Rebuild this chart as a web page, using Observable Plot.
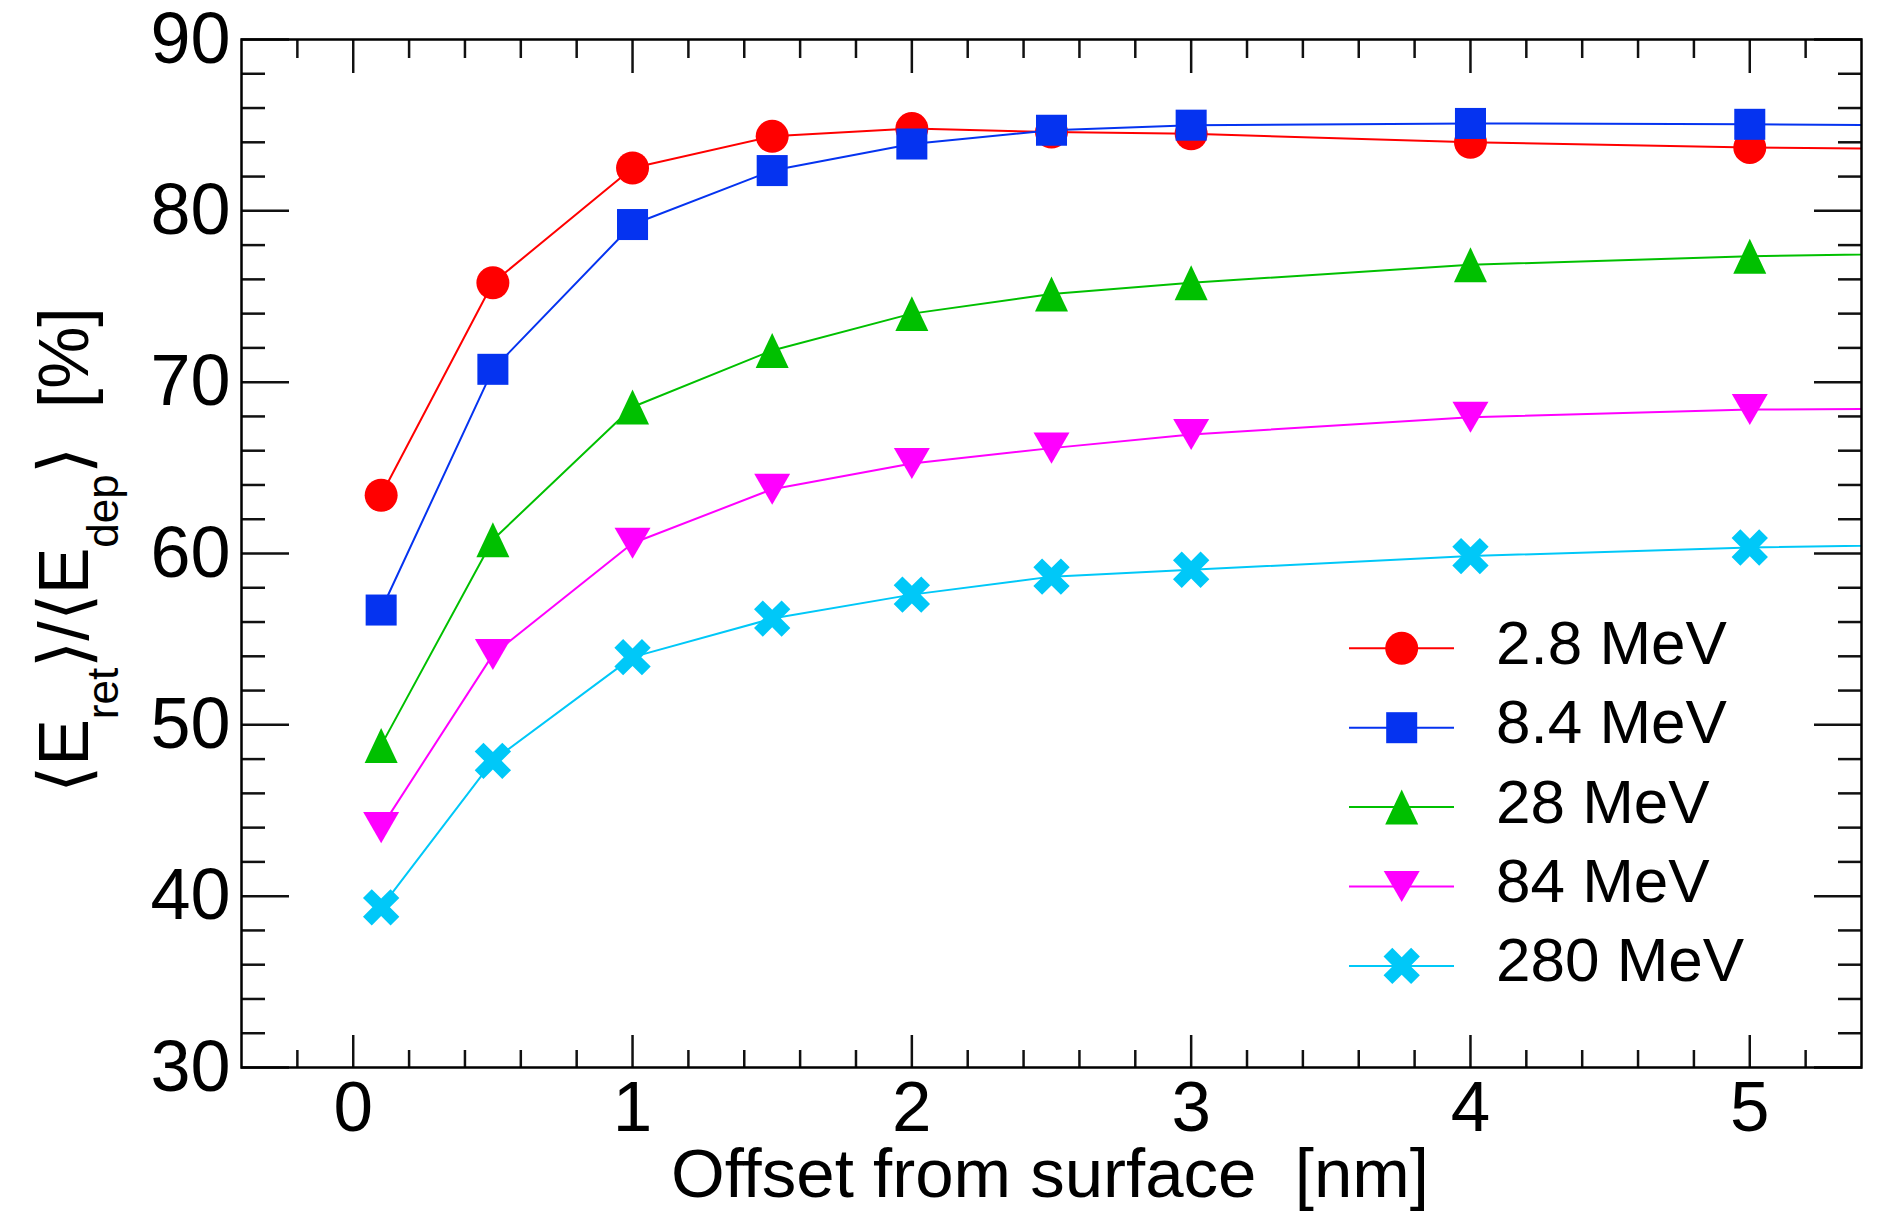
<!DOCTYPE html>
<html><head><meta charset="utf-8">
<script src="https://cdn.jsdelivr.net/npm/d3@7"></script>
<script src="https://cdn.jsdelivr.net/npm/@observablehq/plot@0.6"></script>
<style>
html,body{margin:0;padding:0;background:#fff;}
#chart{width:1891px;height:1219px;position:relative;}
svg text{font-family:"Liberation Sans",Arimo,Arial,Helvetica,sans-serif;}
</style></head><body><div id="chart"></div>
<script>
// ---- data ----
const offsets = [0.1, 0.5, 1, 1.5, 2, 2.5, 3, 4, 5, 6];
const seriesNames = ["2.8 MeV", "8.4 MeV", "28 MeV", "84 MeV", "280 MeV"];
const ratio_2_8 = [63.4, 75.8, 82.5, 84.35, 84.8, 84.6, 84.5, 84.0, 83.7, 83.55];
const ratio_8_4 = [56.7, 70.75, 79.2, 82.35, 83.9, 84.7, 85.0, 85.1, 85.05, 84.95];
const ratio_28  = [48.8, 60.8, 68.55, 71.85, 74.0, 75.15, 75.8, 76.85, 77.35, 77.6];
const ratio_84  = [44.0, 54.1, 60.6, 63.75, 65.25, 66.15, 66.95, 67.95, 68.4, 68.5];
const ratio_280 = [39.35, 47.9, 53.95, 56.2, 57.6, 58.65, 59.05, 59.85, 60.35, 60.6];
const xTickLabels = [0, 1, 2, 3, 4, 5];
const yTickLabels = [30, 40, 50, 60, 70, 80, 90];
const xTitle = "Offset from surface\u00A0\u00A0[nm]";

// ---- styles ----
const colors = ["#ff0000", "#0533f0", "#00c000", "#ff00ff", "#00c8f8"];
const seriesValues = [ratio_2_8, ratio_8_4, ratio_28, ratio_84, ratio_280];

function rad(size) { return Math.sqrt(size / Math.PI); }
const symCircle = {draw(c, s) { const r = rad(s); c.moveTo(r, 0); c.arc(0, 0, r, 0, 2 * Math.PI); c.closePath(); }};
const symSquare = {draw(c, s) { const a = rad(s) * 0.94; c.rect(-a, -a, 2 * a, 2 * a); }};
const symTriUp = {draw(c, s) { const r = rad(s), w = r, h = r * 1.06; c.moveTo(0, -h); c.lineTo(w, h); c.lineTo(-w, h); c.closePath(); }};
const symTriDown = {draw(c, s) { const r = rad(s), w = r * 1.09, h = r * 0.94; c.moveTo(0, h); c.lineTo(w, -h); c.lineTo(-w, -h); c.closePath(); }};
const symThickX = {draw(c, s) {
  const k = rad(s) / 16.5, L = 19.5 * k, t = 6.2 * k;
  const pts = [[t,t],[L,t],[L,-t],[t,-t],[t,-L],[-t,-L],[-t,-t],[-L,-t],[-L,t],[-t,t],[-t,L],[t,L]];
  const cs = Math.SQRT1_2;
  pts.forEach(([x, y], i) => { const X = (x - y) * cs, Y = (x + y) * cs; if (i === 0) c.moveTo(X, Y); else c.lineTo(X, Y); });
  c.closePath();
}};
const symbols = [symCircle, symSquare, symTriUp, symTriDown, symThickX];

const table = seriesNames.map((name, i) => offsets.map((x, j) => ({series: name, offset: x, ratio: seriesValues[i][j]})));

const xMinor = d3.range(-1, 27).map(i => i / 5).filter((v, i) => (i - 1) % 5 !== 0 && v > -0.4 && v < 5.4);
const yMinor = d3.range(32, 90, 2).filter(v => v % 10 !== 0);

const marks = [];
seriesNames.forEach((name, i) => {
  marks.push(Plot.line(table[i], {x: "offset", y: "ratio", stroke: colors[i], strokeWidth: 2, clip: true}));
  marks.push(Plot.dot(table[i], {x: "offset", y: "ratio", fill: colors[i], stroke: "none", r: 16.5, symbol: symbols[i], clip: true}));
});

const tickStyle = {fill: "none", label: null, strokeWidth: 2.5, stroke: "#111"};
marks.push(
  Plot.axisX(xTickLabels, {anchor: "bottom", tickSize: -32, ...tickStyle}),
  Plot.axisX(xMinor, {anchor: "bottom", tickSize: -17, ...tickStyle}),
  Plot.axisX(xTickLabels, {anchor: "top", tickSize: -33, ...tickStyle}),
  Plot.axisX(xMinor, {anchor: "top", tickSize: -18, ...tickStyle}),
  Plot.axisY(yTickLabels, {anchor: "left", tickSize: -48, ...tickStyle}),
  Plot.axisY(yMinor, {anchor: "left", tickSize: -24, ...tickStyle}),
  Plot.axisY(yTickLabels, {anchor: "right", tickSize: -48, ...tickStyle}),
  Plot.axisY(yMinor, {anchor: "right", tickSize: -24, ...tickStyle}),
  Plot.axisX(xTickLabels, {anchor: "bottom", tickSize: 0, tickPadding: 13, fontSize: 71, label: null, fill: "#000", tickFormat: d => String(d)}),
  Plot.axisY(yTickLabels, {anchor: "left", tickSize: 0, tickPadding: 11, fontSize: 72, label: null, fill: "#000", tickFormat: d => String(d)}),
  Plot.frame({stroke: "#000", strokeWidth: 2.5})
);

const plot = Plot.plot({
  width: 1891, height: 1219,
  marginLeft: 241, marginRight: 30, marginTop: 39, marginBottom: 152,
  x: {domain: [-0.4, 5.4]},
  y: {domain: [30, 90]},
  style: {background: "#fff", color: "#000", fontFamily: "'Liberation Sans', Arimo, Arial, sans-serif", overflow: "visible"},
  marks
});
document.getElementById("chart").appendChild(plot);

const svg = d3.select(plot);

// axis titles
svg.append("text").attr("x", 1050).attr("y", 1197).attr("text-anchor", "middle")
  .attr("font-size", 69).attr("fill", "#000").text(xTitle);

const yt = svg.append("text").attr("transform", "translate(88,550) rotate(-90)")
  .attr("text-anchor", "middle").attr("font-size", 70).attr("fill", "#000");
yt.append("tspan").text("\u27E8E");
yt.append("tspan").attr("dy", 30).attr("font-size", 44).text("ret");
yt.append("tspan").attr("dy", -30).text("\u27E9/\u27E8E");
yt.append("tspan").attr("dy", 30).attr("font-size", 44).text("dep");
yt.append("tspan").attr("dy", -30).text("\u27E9\u00A0\u00A0[%]");

// legend
const lg = svg.append("g").attr("transform", "translate(1349,648.3)");
seriesNames.forEach((name, i) => {
  const g = lg.append("g").attr("transform", `translate(0,${i * 79.4})`);
  g.append("line").attr("x1", 0).attr("x2", 105).attr("y1", 0).attr("y2", 0)
    .attr("stroke", colors[i]).attr("stroke-width", 2);
  const p = d3.path(); symbols[i].draw(p, Math.PI * 16.5 * 16.5);
  g.append("path").attr("d", p.toString()).attr("transform", "translate(52.7,0)").attr("fill", colors[i]);
  g.append("text").attr("x", 147).attr("y", 0).attr("dy", "0.25em").attr("text-anchor", "start")
    .attr("font-size", 62).attr("fill", "#000").text(name);
});
</script></body></html>
